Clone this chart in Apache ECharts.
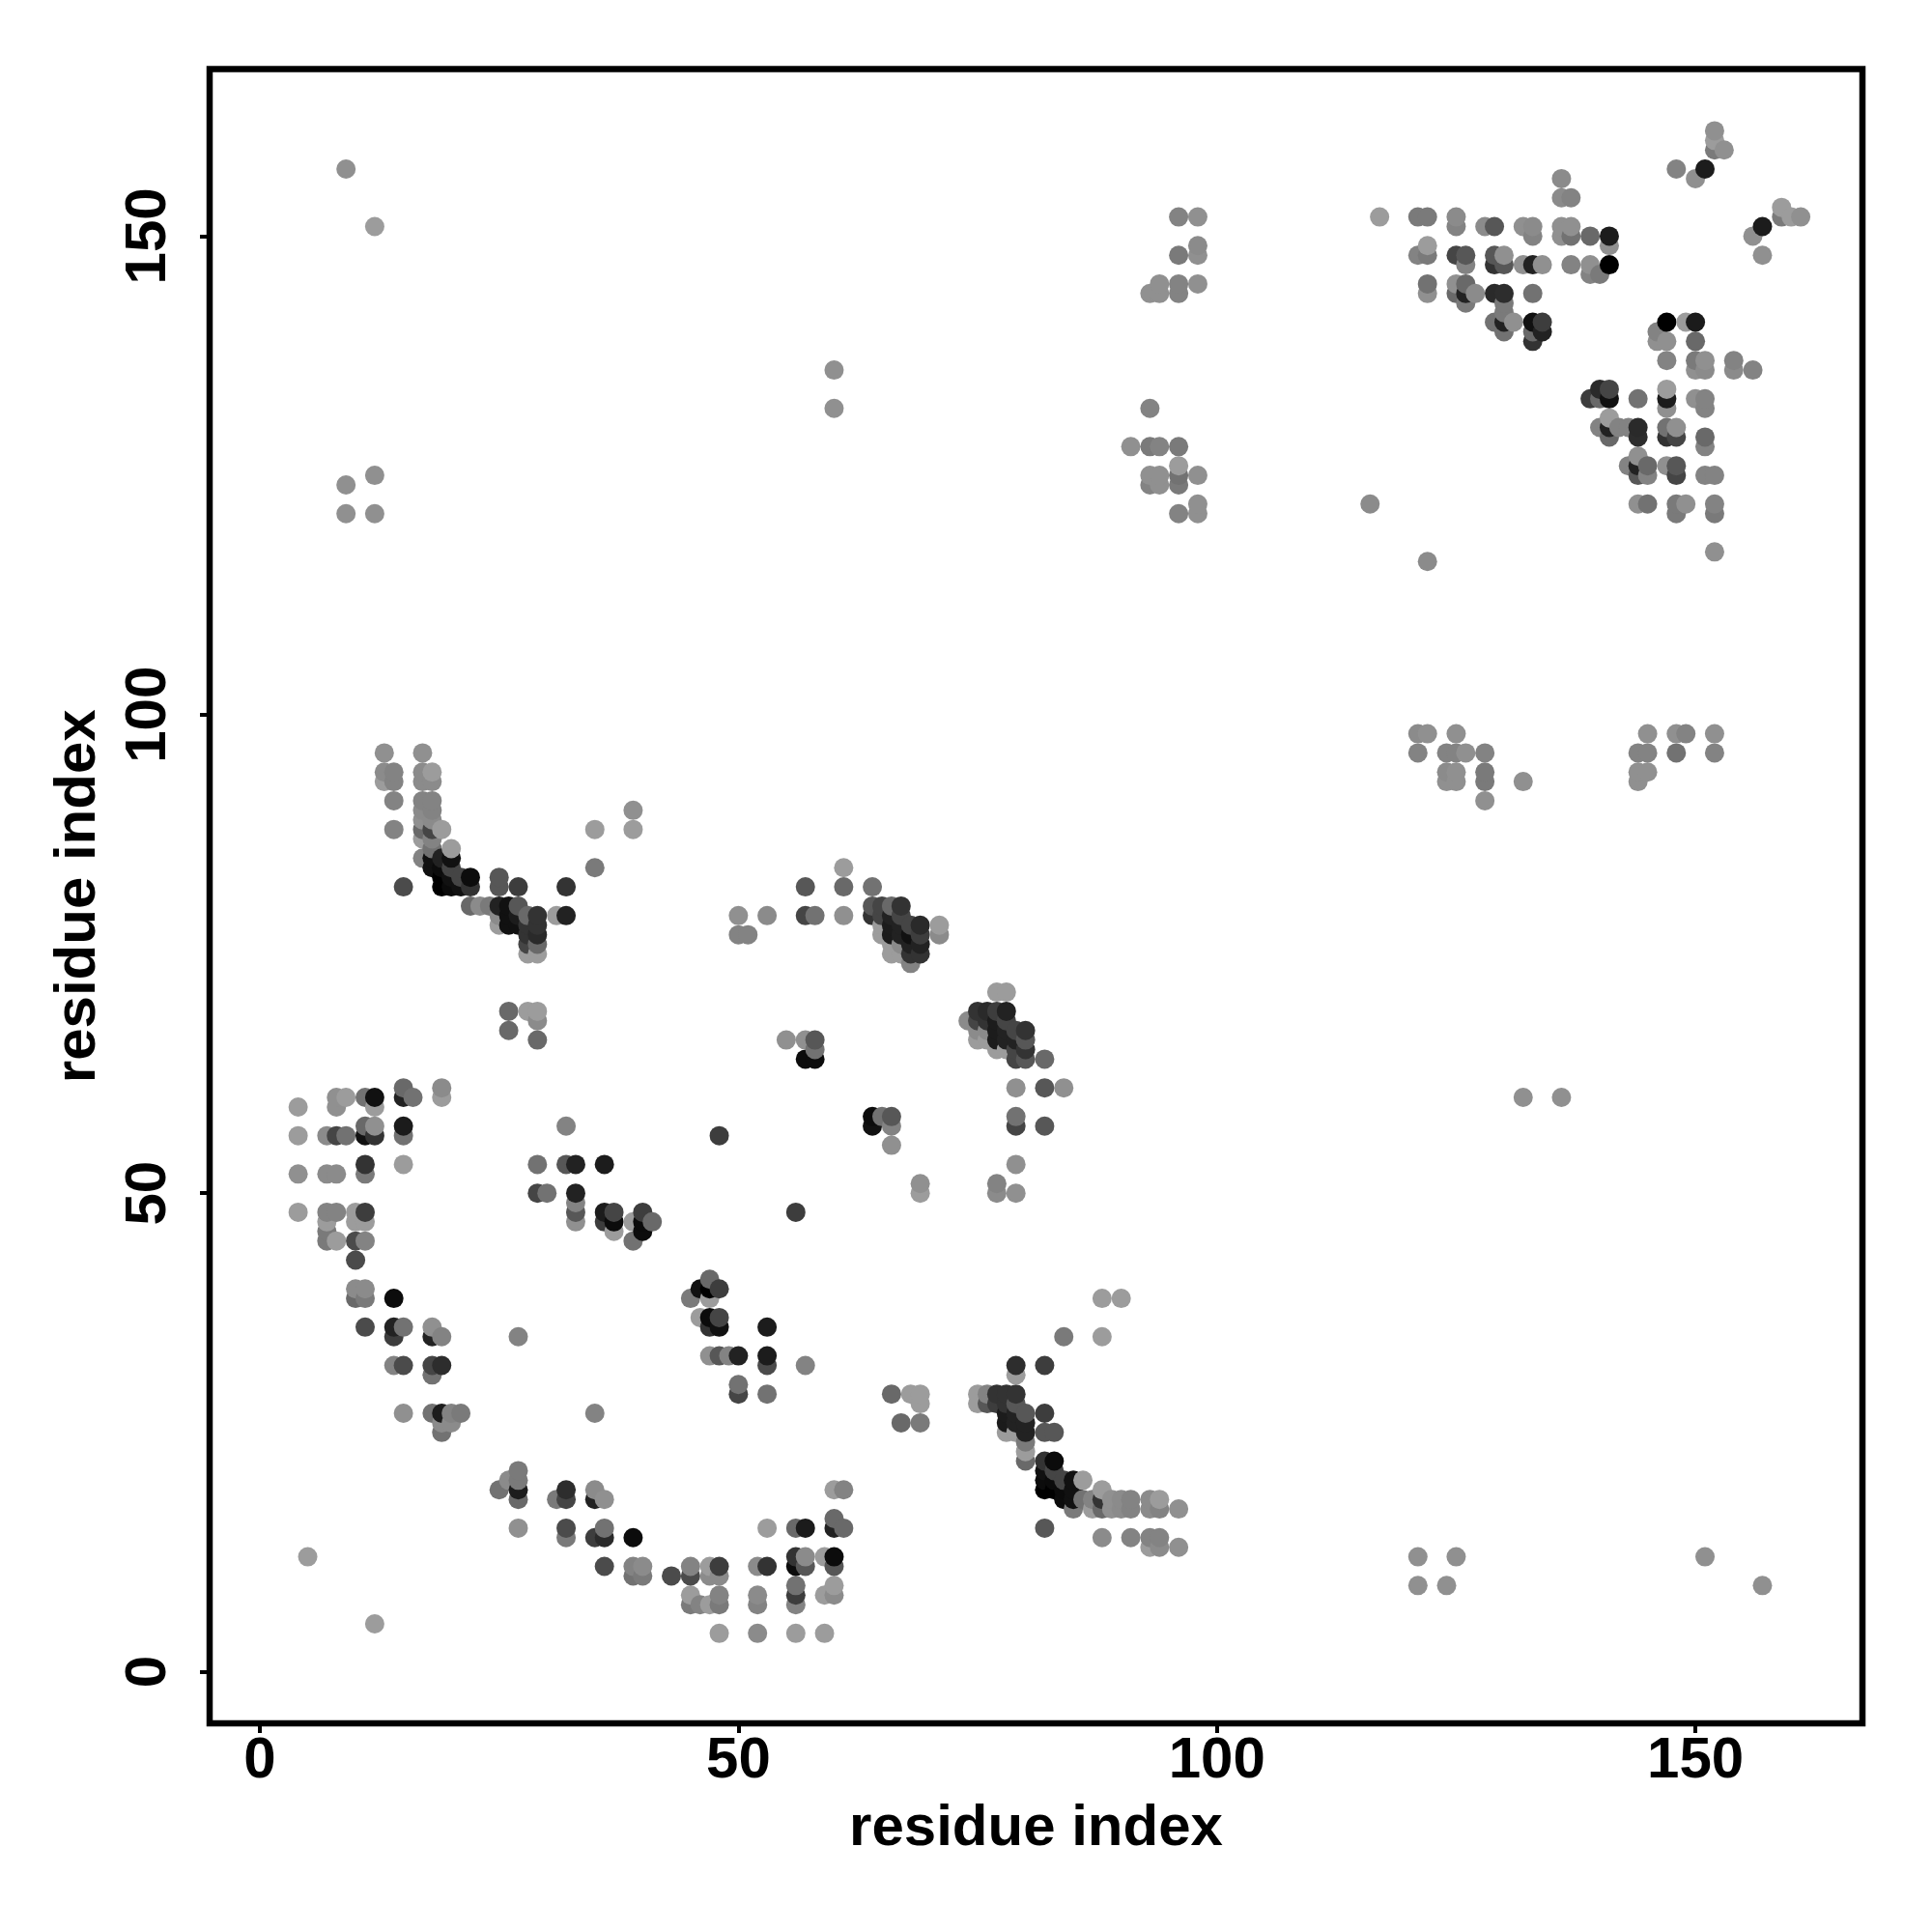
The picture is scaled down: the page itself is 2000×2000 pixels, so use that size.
<!DOCTYPE html>
<html>
<head>
<meta charset="utf-8">
<title>Residue contact map</title>
<style>html,body{margin:0;padding:0;background:#fff}#chart{width:2000px;height:2000px}</style>
<script src="https://cdn.jsdelivr.net/npm/echarts@6/dist/echarts.min.js"></script>
</head>
<body>
<div id="chart"></div>
<script>
// Each contact: [residue x, residue y, strength 0..100]
const lowerLeft = [[10,43,52],[10,40,11],[11,40,11],[10,39,33],[11,39,22],[14,39,92],[11,36,52],[14,36,78],[14,35,61],[15,36,27],[18,36,8],[18,35,78],[19,35,16],[14,32,16],[15,32,52],[18,32,56],[19,32,71],[18,31,27],[15,27,8],[18,27,27],[19,27,82],[20,27,16],[21,27,22],[19,26,11],[20,26,11],[19,25,27],[27,35,16],[27,21,22],[27,20,22],[26,20,11],[27,19,82],[25,19,27],[27,18,33],[27,15,8],[32,19,71],[32,18,56],[31,18,22],[35,19,11],[35,18,78],[36,18,8],[32,15,52],[32,14,22],[35,14,61],[36,14,73],[36,15,27],[39,14,92],[36,11,52],[5,12,0],[12,5,0]];
const lowerMiddle = [[47,41,33],[46,40,89],[47,40,100],[48,40,61],[45,39,22],[47,39,0],[46,37,0],[47,37,93],[48,37,56],[47,36,67],[48,36,89],[53,36,82],[47,33,8],[48,33,44],[49,33,16],[50,33,78],[53,33,82],[53,32,52],[57,32,16],[50,30,27],[50,29,56],[53,29,27],[35,27,16],[66,29,33],[68,29,0],[69,29,0],[69,28,0],[67,26,33],[69,26,22],[39,11,16],[40,11,11],[39,10,27],[40,10,22],[43,10,52],[45,11,16],[45,10,52],[47,11,0],[48,11,61],[47,10,11],[48,10,11],[45,8,0],[45,7,22],[46,7,16],[47,7,0],[48,8,16],[48,7,22],[52,11,11],[53,11,67],[52,8,11],[52,7,16],[56,12,67],[56,11,92],[57,12,11],[57,11,44],[56,9,27],[56,8,61],[56,7,16],[59,12,0],[60,12,92],[60,11,44],[59,8,0],[60,9,0],[60,8,11],[48,4,0],[52,4,11],[56,4,0],[59,4,0],[56,15,33],[57,15,83],[53,15,0],[60,16,33],[60,15,78],[61,15,33],[60,19,0],[61,19,16]];
const lowerRibbon = [[88,39,0],[90,39,0],[84,35,22],[88,35,0],[79,32,71],[79,31,0],[82,32,61],[75,29,0],[75,28,0],[76,29,16],[76,28,44],[77,29,67],[77,28,61],[78,29,67],[78,28,67],[79,29,67],[79,28,44],[78,27,82],[79,27,78],[80,27,44],[78,26,83],[79,26,78],[80,26,78],[80,25,78],[78,25,0],[79,25,0],[80,24,22],[80,23,0],[80,22,33],[82,27,61],[82,25,44],[83,25,44],[82,22,67],[83,22,93],[82,21,89],[83,21,56],[82,20,92],[83,20,93],[84,20,56],[85,20,89],[86,20,0],[82,19,100],[83,19,100],[84,19,93],[85,19,89],[84,18,92],[85,18,89],[86,18,27],[85,17,22],[87,18,16],[87,17,0],[88,19,0],[88,18,67],[88,17,33],[89,18,8],[89,17,8],[90,18,11],[90,17,11],[91,18,16],[91,17,16],[93,18,11],[93,17,11],[94,18,0],[94,17,16],[96,17,8],[82,15,44],[88,14,11],[91,14,16],[93,14,16],[94,14,16],[93,13,0],[94,13,11],[96,13,8]];
const midLeft = [[15,61,33],[15,60,78],[16,60,27],[19,61,11],[19,60,0],[8,60,8],[9,60,0],[8,59,8],[4,59,0],[11,60,27],[12,60,89],[12,59,0],[4,56,0],[7,56,11],[8,56,56],[9,56,27],[11,57,33],[12,57,8],[11,56,89],[12,56,67],[15,57,83],[15,56,27],[15,53,0],[11,53,67],[11,52,22],[4,52,8],[7,52,11],[8,52,11],[4,48,0],[7,48,16],[8,48,16],[7,47,0],[7,46,22],[7,45,22],[8,45,0],[10,48,0],[11,48,61],[10,47,0],[11,47,0],[10,45,52]];
const midCenter = [[11,45,16],[29,53,27],[32,53,44],[33,53,78],[36,53,82],[29,50,56],[30,50,27],[33,50,78],[33,49,16],[33,48,44],[33,47,8],[32,57,16],[36,48,82],[37,48,56],[36,47,61],[37,47,92],[37,46,0],[39,47,0],[40,48,61],[40,47,93],[41,47,33],[40,46,92],[39,45,27],[48,56,61],[56,48,61],[55,66,8],[57,66,8],[58,66,44],[58,65,27],[57,64,92],[58,64,92],[64,58,92],[64,57,89],[65,58,27],[66,58,44],[66,57,16],[66,55,8],[69,51,8],[69,50,0],[77,51,16],[77,50,11],[79,50,8],[79,53,8],[79,58,27],[79,57,56],[82,57,44],[79,61,8],[82,61,44],[84,61,8],[82,64,33]];
const upperArc = [[61,84,0],[57,82,44],[61,82,33],[64,82,27],[50,79,8],[53,79,11],[57,79,56],[58,79,27],[61,79,8],[50,77,16],[51,77,16],[64,80,44],[65,80,56],[66,80,33],[67,80,67],[64,79,67],[65,79,56],[66,79,78],[67,79,56],[65,78,0],[66,78,82],[67,78,78],[68,78,56],[69,78,73],[71,78,0],[65,77,0],[66,77,83],[67,77,78],[68,77,89],[69,77,61],[71,77,11],[66,76,0],[67,76,11],[68,76,78],[69,76,78],[66,75,0],[67,75,0],[68,75,67],[69,75,67],[68,74,16],[77,71,0],[78,71,0],[75,69,67],[76,69,73],[77,69,61],[78,69,78],[74,68,11],[75,68,56],[76,68,67],[77,68,82],[78,68,56],[75,67,11],[76,67,11],[77,67,82],[78,67,78],[79,67,56],[80,67,67],[75,66,0],[76,66,0],[77,66,82],[78,66,78],[79,66,78],[80,66,44],[77,65,0],[78,65,0],[79,65,56],[80,65,67],[79,64,56],[80,64,44]];
const upperLeft = [[13,96,8],[17,96,8],[13,94,11],[14,94,16],[13,93,0],[14,93,16],[17,94,11],[18,94,0],[17,93,11],[18,93,11],[14,91,16],[17,91,16],[18,91,16],[17,90,11],[18,90,16],[17,89,8],[18,89,11],[14,88,16],[17,88,33],[18,88,56],[19,88,0],[17,87,0],[18,87,16],[18,86,27],[17,85,16],[18,85,89],[19,85,78],[20,86,0],[20,85,89],[18,84,89],[19,84,92],[20,84,56],[19,83,100],[20,83,89],[21,83,56],[22,83,92],[19,82,100],[20,82,93],[21,82,89],[22,82,67],[15,82,52],[25,83,44],[25,82,44],[27,82,61],[32,82,67],[22,80,33],[23,80,11],[24,80,22],[25,80,78],[26,80,89],[27,80,44],[25,79,11],[26,79,89],[27,79,82],[28,79,33],[29,79,67],[31,79,0],[32,79,78],[25,78,0],[26,78,89],[27,78,89],[28,78,67],[29,78,67],[28,77,67],[29,77,73],[28,76,56],[29,76,33],[28,75,0],[29,75,0],[26,69,33],[28,69,0],[29,69,0],[29,68,11],[26,67,33],[29,66,33],[39,90,8],[39,88,0],[35,88,0],[35,84,22]];
const topRight = [[152,161,8],[152,160,0],[152,159,22],[153,159,8],[148,157,16],[151,157,82],[150,156,8],[136,156,11],[136,154,11],[137,154,16],[117,152,0],[121,152,22],[122,152,22],[125,152,11],[125,151,16],[128,151,11],[129,151,44],[132,151,8],[133,151,11],[133,150,16],[136,151,8],[137,151,8],[136,150,8],[137,150,27],[139,150,33],[141,150,82],[141,149,8],[122,149,0],[121,148,16],[122,148,22],[125,148,56],[126,148,44],[126,147,16],[129,148,44],[130,148,8],[129,147,67],[130,147,44],[132,147,8],[133,147,78],[134,147,8],[137,147,16],[139,147,8],[139,146,16],[140,146,22],[141,147,100],[122,145,27],[122,144,8],[125,145,8],[126,145,33],[125,144,33],[126,144,78],[127,144,11],[126,143,22],[129,144,73],[130,144,71],[133,144,27],[130,143,22],[130,142,22],[129,141,27],[130,141,78],[131,141,8],[130,140,27],[133,141,89],[134,141,61],[133,140,33],[134,140,78],[133,139,67],[159,153,0],[159,152,22],[160,152,0],[161,152,8],[157,151,82],[156,150,8],[157,148,8]];
const rightBlock = [[147,141,100],[149,141,0],[150,141,83],[146,140,16],[146,139,8],[147,139,8],[150,139,33],[147,137,16],[150,137,22],[151,137,8],[150,136,8],[151,136,11],[154,137,16],[154,136,11],[156,136,16],[147,134,0],[147,133,82],[147,132,8],[139,133,61],[140,134,73],[141,134,56],[140,133,33],[141,133,89],[144,133,27],[150,133,8],[151,133,16],[151,132,16],[141,131,0],[140,130,16],[141,130,78],[141,129,33],[142,130,16],[143,130,16],[144,130,73],[144,129,71],[147,130,27],[148,130,8],[147,129,67],[148,129,56],[151,129,33],[151,128,16],[144,127,8],[143,126,16],[144,126,78],[145,126,33],[144,125,44],[145,125,16],[147,126,8],[148,126,44],[148,125,56],[151,125,16],[152,125,16],[144,122,8],[145,122,27],[148,122,22],[149,122,8],[148,121,22],[152,122,16],[152,121,22],[152,117,8]];
const upperMiddle = [[96,152,16],[98,152,8],[98,149,11],[98,148,8],[96,148,22],[94,145,8],[96,145,16],[98,145,8],[93,144,8],[94,144,8],[96,144,16],[93,132,16],[91,128,8],[93,128,22],[94,128,16],[96,128,22],[93,125,8],[94,125,8],[93,124,16],[94,124,8],[96,126,0],[96,125,27],[96,124,22],[98,125,8],[96,121,16],[98,122,8],[98,121,8]];
const midRight = [[121,98,11],[122,98,8],[125,98,8],[121,96,16],[124,96,16],[125,96,16],[126,96,8],[128,96,16],[124,94,11],[125,94,8],[124,93,8],[125,93,8],[128,94,22],[128,93,22],[128,91,8],[132,93,8],[145,98,8],[148,98,8],[149,98,16],[152,98,8],[144,96,16],[145,96,16],[148,96,27],[152,96,16],[144,94,8],[145,94,8],[144,93,8]];
const scattered = [[9,157,8],[12,151,0],[9,124,8],[12,125,8],[9,121,8],[12,121,8],[60,136,8],[60,132,8],[116,122,11],[122,116,11],[132,60,8],[136,60,8],[121,12,8],[125,12,8],[121,9,8],[124,9,8],[151,12,8],[157,9,8]];
const tickLabels = [0, 50, 100, 150];
const axisName = 'residue index';

// Drawn in residue order: later residues sit on top of earlier ones.
const contacts = [].concat(lowerLeft, lowerMiddle, lowerRibbon, midLeft, midCenter, upperArc, upperLeft, topRight, rightBlock, upperMiddle, midRight, scattered)
  .sort((a, b) => a[0] - b[0] || a[1] - b[1]);

function shade(strength) {
  const g = Math.round(156 * (1 - strength / 100));
  return 'rgb(' + g + ',' + g + ',' + g + ')';
}

const font = 'Liberation Sans';
function axis(min, max, extra) {
  return Object.assign({
    type: 'value', min: min, max: max, name: axisName, nameLocation: 'middle', nameMoveOverlap: false,
    nameTextStyle: { fontFamily: font, fontWeight: 'bold', fontSize: 60, color: '#000' },
    splitLine: { show: false },
    axisLine: { show: false, onZero: false },
    axisTick: { show: true, length: 10, lineStyle: { color: '#000', width: 4 }, customValues: tickLabels },
  }, extra);
}

const chart = echarts.init(document.getElementById('chart'), null, { renderer: 'canvas' });
chart.setOption({
  animation: false,
  backgroundColor: '#fff',
  grid: { left: 217, right: 72, top: 71.5, bottom: 216, show: true, borderColor: '#000', borderWidth: 6.5, backgroundColor: '#fff' },
  xAxis: axis(-5.25, 167.45, {
    nameGap: 79,
    axisLabel: { customValues: tickLabels, fontFamily: font, fontWeight: 'bold', fontSize: 60, color: '#000', margin: 9 },
  }),
  yAxis: axis(-5.4, 167.45, {
    nameGap: 106,
    axisLabel: { customValues: tickLabels, rotate: 90, fontFamily: font, fontWeight: 'bold', fontSize: 60, color: '#000', margin: 33 },
  }),
  series: [{
    type: 'scatter',
    data: contacts,
    symbol: 'circle',
    symbolSize: 20,
    encode: { x: 0, y: 1 },
    silent: true,
    itemStyle: { opacity: 1, color: p => shade(p.value[2]) },
  }],
});
</script>
</body>
</html>
